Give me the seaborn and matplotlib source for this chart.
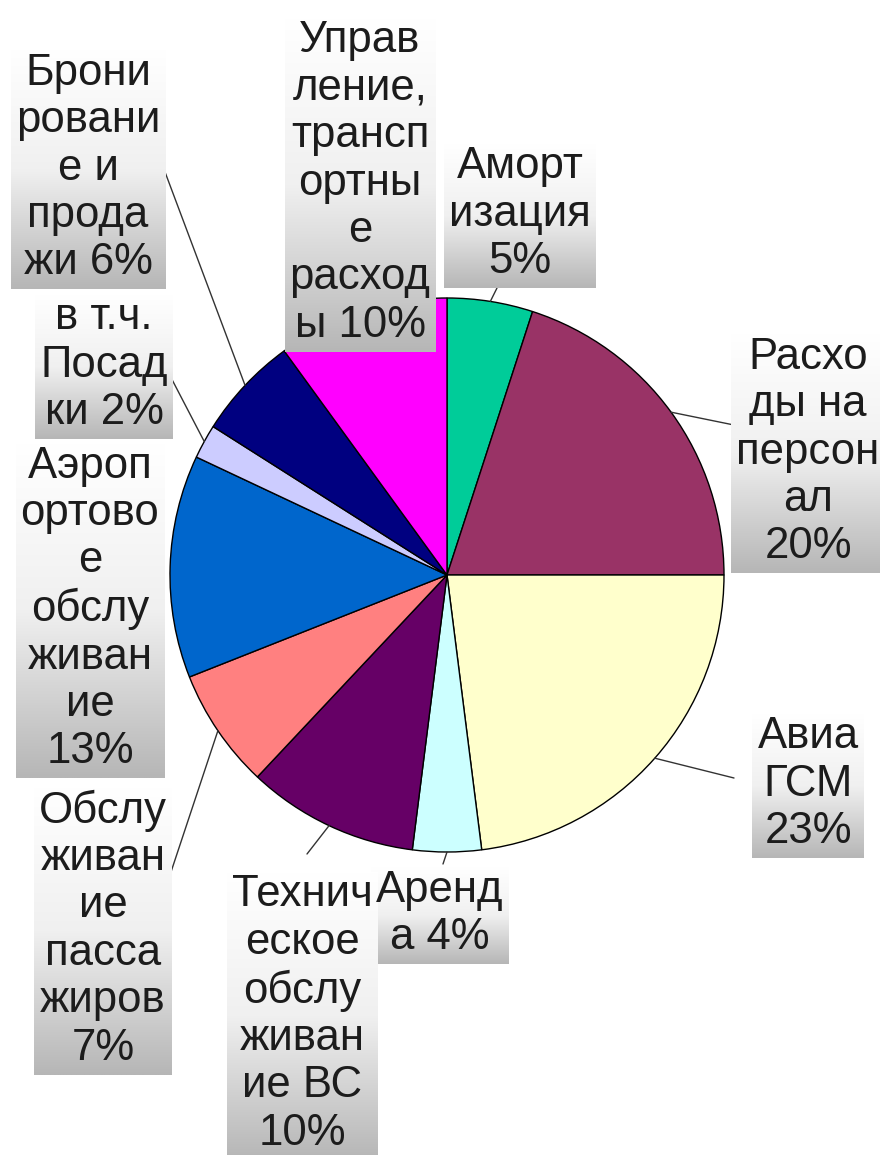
import numpy as np
import matplotlib
matplotlib.use("Agg")
import matplotlib.pyplot as plt
import seaborn as sns
from matplotlib.colors import LinearSegmentedColormap

# cost structure, clockwise from 12 o'clock
categories = ["Амортизация", "Расходы на персонал", "Авиа ГСМ", "Аренда",
              "Техническое обслуживание ВС", "Обслуживание пассажиров",
              "Аэропортовое обслуживание", "в т.ч. Посадки",
              "Бронирование и продажи", "Управление, транспортные расходы"]
shares = [5, 20, 23, 4, 10, 7, 13, 2, 6, 10]
label_texts = ["Аморт\nизация\n5%",
               "Расхо\nды на\nперсон\nал\n20%",
               "Авиа\nГСМ\n23%",
               "Аренд\nа 4%",
               "Технич\nеское\nобслу\nживан\nие ВС\n10%",
               "Обслу\nживан\nие\nпасса\nжиров\n7%",
               "Аэроп\nортово\nе\nобслу\nживан\nие\n13%",
               "в т.ч.\nПосад\nки 2%",
               "Брони\nровани\nе и\nпрода\nжи 6%",
               "Управ\nление,\nтрансп\nортны\nе\nрасход\nы 10%"]
colors = ["#00cc99", "#993366", "#ffffcc", "#ccffff", "#660066",
          "#ff8080", "#0066cc", "#ccccff", "#000080", "#ff00ff"]

# layout in image pixels
CX, CY, R = 447, 575, 277
label_pos = [(520, 214), (808, 452), (808, 784), (440, 914), (302, 1014),
             (103, 929), (90, 609), (104, 365), (88, 168), (360, 183)]
leader_end = [(497, 288), (734, 425), (734, 778), (443, 864), (307, 854),
              (165, 890), None, (166, 368), (165, 172), None]


def px(x, y):
    return (x - CX) / R, (CY - y) / R


sns.set_theme(style="white")
plt.rcParams['font.family'] = ['Liberation Sans', 'DejaVu Sans']

fig = plt.figure(figsize=(8.8, 11.55), dpi=100)
ax = fig.add_axes([0, 0, 1, 1])
wedges, _ = ax.pie(shares, colors=colors, startangle=90, counterclock=False,
                   radius=1, wedgeprops=dict(edgecolor="black", linewidth=1.0))

# leader lines from wedge middle to label
for w, end in zip(wedges, leader_end):
    if end is None:
        continue
    a = np.deg2rad((w.theta1 + w.theta2) / 2)
    ex, ey = px(*end)
    ax.plot([np.cos(a), ex], [np.sin(a), ey], color="#333333", lw=1.0, zorder=2)

texts = []
for txt, pos in zip(label_texts, label_pos):
    t = ax.text(*px(*pos), txt, ha="center", va="center", fontsize=31.5,
                linespacing=1.2, color="#1c1c1c", zorder=5)
    texts.append(t)

xlim = (px(0, 0)[0], px(880, 0)[0])
ylim = (px(0, 1155)[1], px(0, 0)[1])
ax.set_xlim(*xlim)
ax.set_ylim(*ylim)
ax.set_aspect("auto")
ax.axis("off")

# gradient boxes behind labels
fig.canvas.draw()
renderer = fig.canvas.get_renderer()
inv = ax.transData.inverted()
grad_cmap = LinearSegmentedColormap.from_list("lbl", ["#ffffff", "#f0f0f0", "#b6b6b6"])
grad = np.linspace(0, 1, 256).reshape(-1, 1)
for t in texts:
    bb = t.get_window_extent(renderer)
    x0, y0 = inv.transform((bb.x0 - 5, bb.y0 - 6))
    x1, y1 = inv.transform((bb.x1 + 5, bb.y1 + 2))
    ax.imshow(grad, cmap=grad_cmap, extent=[x0, x1, y0, y1], origin="upper",
              aspect="auto", zorder=4, interpolation="bilinear")

ax.set_xlim(*xlim)
ax.set_ylim(*ylim)
ax.set_aspect("auto")

fig.savefig("out.png", dpi=100)
